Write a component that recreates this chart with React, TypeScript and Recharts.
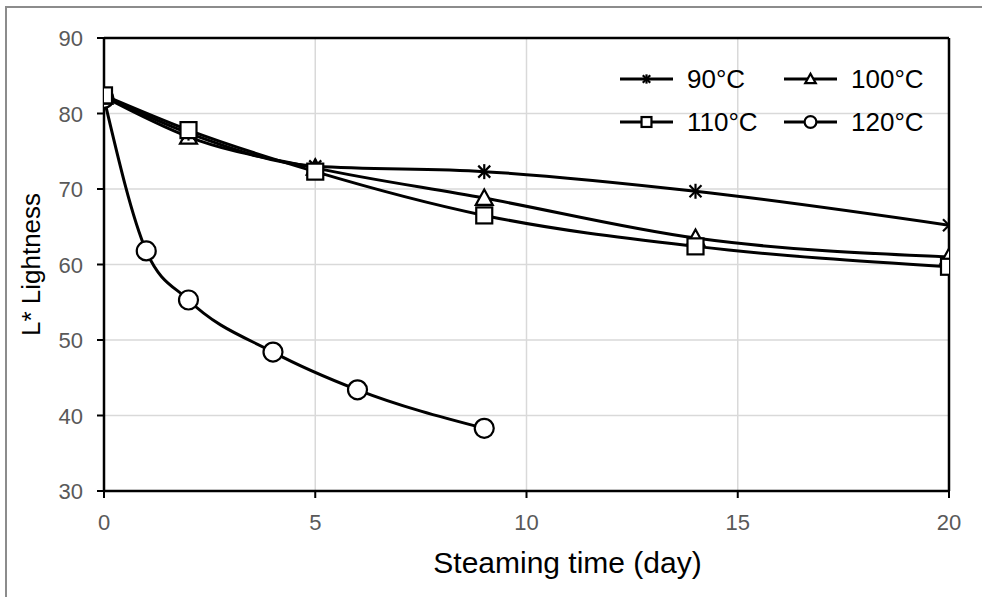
import React from 'react';
import { LineChart, Line, XAxis, YAxis, CartesianGrid, ReferenceLine } from 'recharts';

const series90 = [
  { x: 0, y: 82.3 }, { x: 2, y: 77.4 }, { x: 5, y: 73.0 }, { x: 9, y: 72.3 }, { x: 14, y: 69.7 }, { x: 20, y: 65.2 },
];
const series100 = [
  { x: 0, y: 82.2 }, { x: 2, y: 76.9 }, { x: 5, y: 72.8 }, { x: 9, y: 68.8 }, { x: 14, y: 63.5 }, { x: 20, y: 61.0 },
];
const series110 = [
  { x: 0, y: 82.4 }, { x: 2, y: 77.8 }, { x: 5, y: 72.3 }, { x: 9, y: 66.5 }, { x: 14, y: 62.4 }, { x: 20, y: 59.7 },
];
const series120 = [
  { x: 0, y: 82.0 }, { x: 1, y: 61.8 }, { x: 2, y: 55.3 }, { x: 4, y: 48.4 }, { x: 6, y: 43.4 }, { x: 9, y: 38.3 },
];
const xTicks = [0, 5, 10, 15, 20];
const yTicks = [30, 40, 50, 60, 70, 80, 90];
const seriesNames = ['90°C', '100°C', '110°C', '120°C'];
const xTitle = 'Steaming time (day)';
const yTitle = 'L* Lightness';

type Shape = 'star' | 'triangle' | 'square' | 'circle';

function Marker({ cx, cy, shape, s = 1 }: { cx: number; cy: number; shape: Shape; s?: number }) {
  if (cx == null || cy == null) return null;
  const sw = 2.2;
  if (shape === 'star') {
    const r = 7.5 * s;
    const d = r * 0.8;
    return (
      <g stroke="#000" strokeWidth={sw}>
        <line x1={cx} y1={cy - r} x2={cx} y2={cy + r} />
        <line x1={cx - d} y1={cy - d} x2={cx + d} y2={cy + d} />
        <line x1={cx - d} y1={cy + d} x2={cx + d} y2={cy - d} />
      </g>
    );
  }
  if (shape === 'triangle') {
    const r = 8.5 * s;
    return (
      <polygon
        points={`${cx},${cy - r} ${cx + r},${cy + r * 0.8} ${cx - r},${cy + r * 0.8}`}
        fill="#fff" stroke="#000" strokeWidth={sw}
      />
    );
  }
  if (shape === 'square') {
    const r = 8 * s;
    return <rect x={cx - r} y={cy - r} width={2 * r} height={2 * r} fill="#fff" stroke="#000" strokeWidth={sw} />;
  }
  return <circle cx={cx} cy={cy} r={9.5 * s} fill="#fff" stroke="#000" strokeWidth={sw} />;
}

const mk = (shape: Shape) => (props: any) => <Marker key={`${shape}-${props.index}`} cx={props.cx} cy={props.cy} shape={shape} />;

const shapes: Shape[] = ['star', 'triangle', 'square', 'circle'];

const font = '"Liberation Sans", Arial, sans-serif';

function LegendBox() {
  const item = (i: number) => (
    <div style={{ display: 'flex', alignItems: 'center', width: 164 }}>
      <svg width={53} height={22} style={{ overflow: 'visible' }}>
        <line x1={0} y1={11} x2={53} y2={11} stroke="#000" strokeWidth={3} />
        <Marker cx={26.5} cy={11} shape={shapes[i]} s={0.62} />
      </svg>
      <span style={{ marginLeft: 14, fontSize: 26, color: '#000', lineHeight: '22px' }}>{seriesNames[i]}</span>
    </div>
  );
  return (
    <div style={{ position: 'absolute', left: 620, top: 68, fontFamily: font }}>
      <div style={{ display: 'flex', marginBottom: 21 }}>{item(0)}{item(1)}</div>
      <div style={{ display: 'flex' }}>{item(2)}{item(3)}</div>
    </div>
  );
}

function XTick(props: any) {
  const { x, y, payload } = props;
  return (
    <text x={x} y={y + 30} textAnchor="middle" fontSize={22} fill="#595959" fontFamily={font}>{payload.value}</text>
  );
}
function YTick(props: any) {
  const { x, y, payload } = props;
  return (
    <text x={x - 12} y={y + 8} textAnchor="end" fontSize={22} fill="#595959" fontFamily={font}>{payload.value}</text>
  );
}

function XLabel(props: any) {
  const vb = props.viewBox || {};
  return (
    <text x={vb.x + vb.width / 2 + 41} y={vb.y + 82} textAnchor="middle" fontSize={30} fill="#000" fontFamily={font}>{xTitle}</text>
  );
}
function YLabel(props: any) {
  const vb = props.viewBox || {};
  const cx = vb.x - 13;
  const cy = vb.y + vb.height / 2;
  return (
    <text x={cx} y={cy} transform={`rotate(-90 ${cx} ${cy})`} textAnchor="middle" dominantBaseline="central" fontSize={26} fill="#000" fontFamily={font}>{yTitle}</text>
  );
}

export default function App() {
  return (
    <div style={{ position: 'fixed', left: 0, top: 0, width: 982, height: 597, background: '#fff' }}>
      <div style={{ position: 'absolute', left: 5, top: 6, width: 977, height: 591, borderLeft: '2px solid #8c8c8c', borderTop: '2px solid #8c8c8c', boxSizing: 'border-box' }} />
      <div style={{ position: 'absolute', left: 0, top: 0 }}>
        <LineChart width={982} height={597} margin={{ top: 38, right: 33, left: 44, bottom: 46 }} style={{ fontFamily: font }}>
          <CartesianGrid stroke="#d9d9d9" strokeWidth={1.5} />
          <XAxis
            type="number" dataKey="x" domain={[0, 20]} ticks={xTicks} allowDataOverflow
            axisLine={{ stroke: '#000', strokeWidth: 2.5 }} tickLine={{ stroke: '#000', strokeWidth: 2 }}
            tickSize={7} height={60}
            tick={<XTick />}
            label={<XLabel />}
          />
          <YAxis
            type="number" domain={[30, 90]} ticks={yTicks} allowDataOverflow
            axisLine={{ stroke: '#000', strokeWidth: 2.5 }} tickLine={{ stroke: '#000', strokeWidth: 2 }}
            tickSize={7} width={60}
            tick={<YTick />}
            label={<YLabel />}
          />
          <ReferenceLine y={90} stroke="#000" strokeWidth={2.5} />
          <ReferenceLine x={20} stroke="#000" strokeWidth={2.5} />
          <Line data={series120} dataKey="y" name={seriesNames[3]} type="monotone" stroke="#000" strokeWidth={3} dot={mk('circle')} isAnimationActive={false} />
          <Line data={series100} dataKey="y" name={seriesNames[1]} type="monotone" stroke="#000" strokeWidth={3} dot={mk('triangle')} isAnimationActive={false} />
          <Line data={series90} dataKey="y" name={seriesNames[0]} type="monotone" stroke="#000" strokeWidth={3} dot={mk('star')} isAnimationActive={false} />
          <Line data={series110} dataKey="y" name={seriesNames[2]} type="monotone" stroke="#000" strokeWidth={3} dot={mk('square')} isAnimationActive={false} />
        </LineChart>
      </div>
      <LegendBox />
    </div>
  );
}
